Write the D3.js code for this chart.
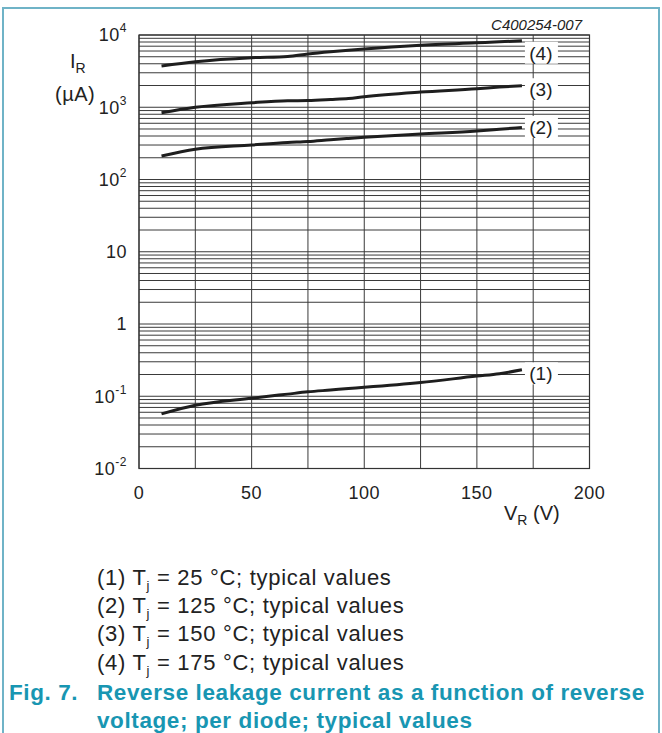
<!DOCTYPE html>
<html>
<head>
<meta charset="utf-8">
<script src="https://cdn.jsdelivr.net/npm/d3@7"></script>
<style>
  html, body { margin: 0; padding: 0; background: #fff; }
  svg { display: block; font-family: "Liberation Sans", Arial, sans-serif; }
</style>
</head>
<body>
<svg id="chart" width="662" height="733"></svg>
<script>
// ---------- data ----------
const voltages = [10, 25, 50, 66, 75, 85, 93, 100, 125, 150, 160, 170];      // V_R (V)
const ir25  = [0.057, 0.075, 0.094, 0.107, 0.115, 0.122, 0.128, 0.133, 0.155, 0.19, 0.205, 0.232]; // µA
const ir125 = [211, 262, 300, 325, 335, 355, 370, 383, 425, 468, 495, 525];
const ir150 = [840, 1000, 1155, 1230, 1240, 1280, 1320, 1400, 1620, 1800, 1900, 1985];
const ir175 = [3720, 4265, 4850, 5050, 5450, 5850, 6150, 6400, 7200, 7820, 8050, 8340];
const seriesNames = ["(1)", "(2)", "(3)", "(4)"];
const xTicks = [0, 50, 100, 150, 200];
const yTickExps = [4, 3, 2, 1, 0, -1, -2];
const legendLines = [
  ["(1) T", "j", " = 25 °C; typical values"],
  ["(2) T", "j", " = 125 °C; typical values"],
  ["(3) T", "j", " = 150 °C; typical values"],
  ["(4) T", "j", " = 175 °C; typical values"]
];
const figNumber = "Fig. 7.";
const captionLines = ["Reverse leakage current as a function of reverse", "voltage; per diode; typical values"];
const chartCode = "C400254-007";

// ---------- layout ----------
const svg = d3.select("#chart");
const L = 139, R = 589.5, T = 35, B = 468.5;
const x = d3.scaleLinear().domain([0, 200]).range([L, R]);
const y = d3.scaleLog().domain([0.01, 10000]).range([B, T]);
const teal = "#1896b2";

// frame border
svg.append("path")
  .attr("d", `M3,733 V8 H659 V733`)
  .attr("fill", "none").attr("stroke", "#6fb3c7").attr("stroke-width", 2);

// grid
const grid = svg.append("g");
const hVals = [];
for (let e = -2; e < 4; e++) for (let m = 1; m < 10; m++) hVals.push(m * Math.pow(10, e));
hVals.push(10000);
grid.selectAll("line.h").data(hVals).join("line")
  .attr("x1", L).attr("x2", R)
  .attr("y1", d => y(d)).attr("y2", d => y(d))
  .attr("stroke", "#3a3a3a").attr("stroke-width", 1);
grid.selectAll("line.v").data(d3.range(0, 201, 25)).join("line")
  .attr("x1", d => x(d)).attr("x2", d => x(d))
  .attr("y1", T).attr("y2", B)
  .attr("stroke", "#3a3a3a").attr("stroke-width", 1);
grid.append("rect").attr("x", L).attr("y", T).attr("width", R - L).attr("height", B - T)
  .attr("fill", "none").attr("stroke", "#333").attr("stroke-width", 1.2);

// curves
const allSeries = [ir25, ir125, ir150, ir175];
const line = d3.line().x(d => x(d[0])).y(d => y(d[1])).curve(d3.curveMonotoneX);
const curves = svg.append("g");
allSeries.forEach(s => {
  curves.append("path")
    .attr("d", line(voltages.map((v, i) => [v, s[i]])))
    .attr("fill", "none").attr("stroke", "#1e1e1e").attr("stroke-width", 3)
    .attr("stroke-linecap", "butt");
});

// curve labels
const labelDy = [3.5, -0.5, 3.5, 12];
const lastV = voltages[voltages.length - 1];
allSeries.forEach((s, i) => {
  const cy = y(s[s.length - 1]) + labelDy[i];
  const lx = x(lastV) + 19;
  svg.append("rect").attr("x", lx - 16).attr("y", cy - 11).attr("width", 33).attr("height", 22).attr("fill", "#fff");
  svg.append("text").attr("x", lx).attr("y", cy).attr("dy", "0.36em")
    .attr("text-anchor", "middle").attr("font-size", 19).attr("fill", "#222").text(seriesNames[i]);
});

// y tick labels
yTickExps.forEach(e => {
  const t = svg.append("text").attr("x", 127).attr("y", y(Math.pow(10, e))).attr("dy", "0.36em")
    .attr("text-anchor", "end").attr("font-size", 18).attr("letter-spacing", 0.5).attr("fill", "#222");
  if (e === 1) t.text("10");
  else if (e === 0) t.text("1");
  else {
    t.append("tspan").text("10");
    t.append("tspan").attr("font-size", 12).attr("dy", "-0.75em").text(String(e));
  }
});

// x tick labels
svg.selectAll("text.xt").data(xTicks).join("text")
  .attr("x", d => x(d)).attr("y", 499)
  .attr("text-anchor", "middle").attr("font-size", 18).attr("letter-spacing", 0.5).attr("fill", "#222")
  .text(d => d);

// axis titles
const yt = svg.append("text").attr("x", 70).attr("y", 68).attr("font-size", 20).attr("fill", "#222");
yt.append("tspan").text("I");
yt.append("tspan").attr("font-size", 14).attr("dy", 5).text("R");
svg.append("text").attr("x", 55).attr("y", 101).attr("font-size", 20).attr("letter-spacing", 0.5).attr("fill", "#222").text("(µA)");

const xt = svg.append("text").attr("x", 504).attr("y", 520).attr("font-size", 20).attr("fill", "#222");
xt.append("tspan").text("V");
xt.append("tspan").attr("font-size", 14).attr("dy", 5).text("R");
xt.append("tspan").attr("dy", -5).text(" (V)");

// chart code
svg.append("text").attr("x", 582).attr("y", 30).attr("text-anchor", "end")
  .attr("font-size", 15).attr("font-style", "italic").attr("fill", "#222").text(chartCode);

// legend
legendLines.forEach((parts, i) => {
  const t = svg.append("text").attr("x", 97).attr("y", 585 + i * 28.2)
    .attr("font-size", 22).attr("letter-spacing", 0.7).attr("fill", "#222");
  t.append("tspan").text(parts[0]);
  t.append("tspan").attr("font-size", 13).attr("dy", 5).text(parts[1]);
  t.append("tspan").attr("dy", -5).text(parts[2]);
});

// caption
svg.append("text").attr("x", 9).attr("y", 700).attr("font-size", 22.5).attr("letter-spacing", 0.6)
  .attr("font-weight", "bold").attr("fill", teal).text(figNumber);
captionLines.forEach((c, i) => {
  svg.append("text").attr("x", 97).attr("y", 700 + i * 27.5).attr("font-size", 22.5).attr("letter-spacing", 0.6)
    .attr("font-weight", "bold").attr("fill", teal).text(c);
});
</script>
</body>
</html>
